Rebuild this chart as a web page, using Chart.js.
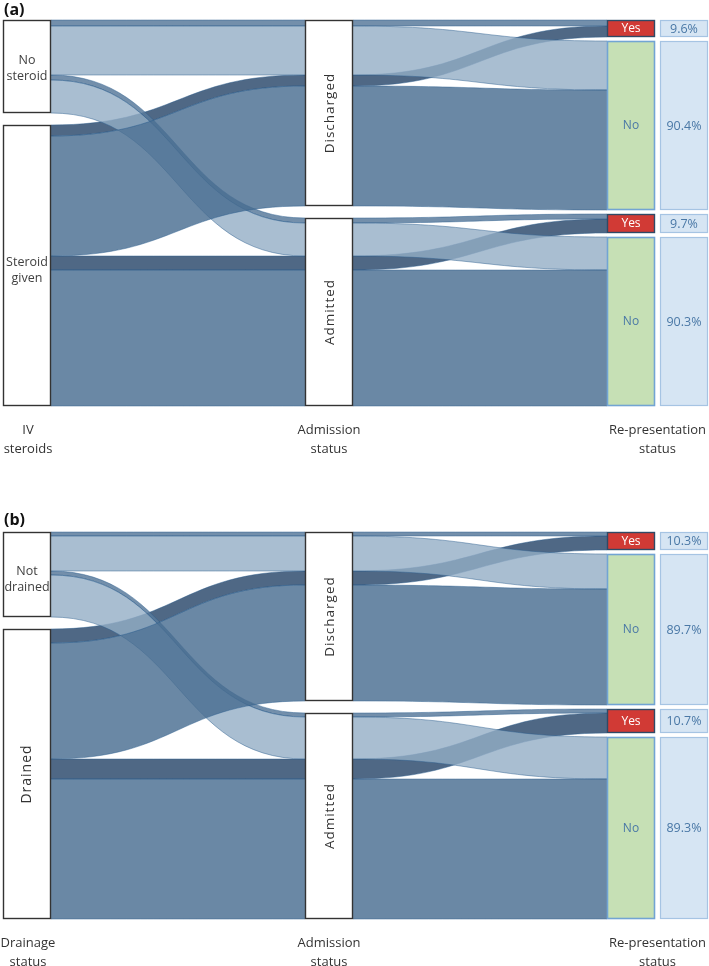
<!DOCTYPE html>
<html>
<head>
<meta charset="utf-8">
<script src="https://cdn.jsdelivr.net/npm/chart.js@4.4.1/dist/chart.umd.min.js"></script>
<style>
html,body{margin:0;padding:0;background:#fff;}
.panel{position:relative;width:709px;height:483px;overflow:hidden;}
canvas{display:block;}
</style>
</head>
<body>
<div class="panel"><canvas id="ca" width="709" height="483"></canvas></div>
<div class="panel"><canvas id="cb" width="709" height="483"></canvas></div>
<script>
// ---------------- DATA ----------------
const panelLetters = ['(a)', '(b)'];
const stageLabelsA = [['IV', 'steroids'], ['Admission', 'status'], ['Re-presentation', 'status']];
const stageLabelsB = [['Drainage', 'status'], ['Admission', 'status'], ['Re-presentation', 'status']];
const sourceLabelsA = [['No', 'steroid'], ['Steroid', 'given']];
const sourceLabelsB = [['Not', 'drained'], ['Drained']];
const middleLabels = ['Discharged', 'Admitted'];
const outcomeLabels = ['Yes', 'No'];
// path values per source node, order: [Discharged→Yes, Discharged→No, Admitted→Yes, Admitted→No]
const noSteroidA = [6, 49, 5, 33];
const steroidGivenA = [11, 120, 14, 136];
const notDrainedB = [4, 35, 4, 42];
const drainedB = [14, 116, 20, 140];
// re-presentation percentages (Discharged Yes, Discharged No, Admitted Yes, Admitted No)
const pctLabelsA = ['9.6%', '90.4%', '9.7%', '90.3%'];
const pctLabelsB = ['10.3%', '89.7%', '10.7%', '89.3%'];
const nodeGap = 12;

// ---------------- STYLE ----------------
const FONT = '"Open Sans", "Noto Sans", sans-serif';
const flowFill = {
  yes: ['rgba(90,123,156,0.85)', 'rgba(60,88,120,0.9)'],
  no: ['rgba(147,174,198,0.8)', 'rgba(71,109,144,0.81)']
};
const flowEdge = 'rgba(40,90,140,0.45)';

function sankeyPlugin(srcPaths, srcLabels, stageLabels, pctLabels, letter, st) {
  return {
    id: 'sankeyDraw',
    afterDraw(chart) {
      const ctx = chart.ctx;
      const X = v => chart.scales.x.getPixelForValue(v);
      const Y = v => chart.scales.y.getPixelForValue(v);
      const hw = 24;
      const nS = srcPaths.length;
      const total = srcPaths.flat().reduce((a, b) => a + b, 0);
      const maxY = chart.scales.y.max;
      // left column
      let c = 0;
      const leftNodes = [], leftSeg = srcPaths.map(() => []);
      srcPaths.forEach((arr, s) => {
        const s0 = c;
        arr.forEach((v, k) => { leftSeg[s][k] = [c, c + v]; c += v; });
        leftNodes.push([s0, c]);
        c += (maxY - total) / (nS - 1);
      });
      // middle column
      c = 0;
      const midNodes = [], midSeg = srcPaths.map(() => []);
      for (let m = 0; m < 2; m++) {
        const s0 = c;
        for (let s = 0; s < nS; s++) for (let o = 0; o < 2; o++) {
          const k = m * 2 + o, v = srcPaths[s][k];
          midSeg[s][k] = [c, c + v]; c += v;
        }
        midNodes.push([s0, c]);
        c += (maxY - total);
      }
      // right column
      c = 0;
      const rightNodes = [], rightSeg = srcPaths.map(() => []);
      const rg = (maxY - total) / 3;
      for (let k = 0; k < 4; k++) {
        const s0 = c;
        for (let s = 0; s < nS; s++) { const v = srcPaths[s][k]; rightSeg[s][k] = [c, c + v]; c += v; }
        rightNodes.push([s0, c]);
        c += rg;
      }
      const x0 = X(0), x1 = X(1), x2 = X(2);
      const xP = x2 + (x2 - x1) * 0.1755;

      function band(xa, a, xb, b, fill) {
        const ya0 = Y(a[0]), ya1 = Y(a[1]), yb0 = Y(b[0]), yb1 = Y(b[1]);
        const xm = (xa + xb) / 2;
        ctx.beginPath();
        ctx.moveTo(xa, ya0);
        ctx.bezierCurveTo(xm, ya0, xm, yb0, xb, yb0);
        ctx.lineTo(xb, yb1);
        ctx.bezierCurveTo(xm, yb1, xm, ya1, xa, ya1);
        ctx.closePath();
        ctx.fillStyle = fill;
        ctx.fill();
        ctx.lineWidth = 1;
        ctx.strokeStyle = flowEdge;
        ctx.beginPath();
        ctx.moveTo(xa, ya0);
        ctx.bezierCurveTo(xm, ya0, xm, yb0, xb, yb0);
        ctx.moveTo(xa, ya1);
        ctx.bezierCurveTo(xm, ya1, xm, yb1, xb, yb1);
        ctx.stroke();
      }
      ctx.save();
      // draw order: yes paths first (source 1 then 0), then no paths (source 0 then 1)
      const order = [[1, 0], [0, 0], [0, 1], [1, 1]];
      order.forEach(([s, o]) => {
        for (let m = 0; m < 2; m++) {
          const k = m * 2 + o;
          const fill = o === 0 ? flowFill.yes[s] : flowFill.no[s];
          band(x0 + hw, leftSeg[s][k], x1 - hw, midSeg[s][k], fill);
          band(x1 + hw, midSeg[s][k], x2 - hw, rightSeg[s][k], fill);
        }
      });
      // nodes
      function rect(xc, r, fill, stroke, lw) {
        const ya = Y(r[0]), yb = Y(r[1]);
        ctx.fillStyle = fill;
        ctx.fillRect(xc - hw, ya, hw * 2, yb - ya);
        ctx.lineWidth = lw;
        ctx.strokeStyle = stroke;
        ctx.strokeRect(xc - hw + 0.5, ya + 0.5, hw * 2 - 1, yb - ya - 1);
      }
      leftNodes.forEach(r => rect(x0, r, '#ffffff', '#333333', 1.4));
      midNodes.forEach(r => rect(x1, r, '#ffffff', '#333333', 1.4));
      rightNodes.forEach((r, k) => {
        if (k % 2 === 0) rect(x2, r, '#d13a35', '#2f4a66', 1.4);
        else rect(x2, r, '#c6e0b5', '#72a4d3', 1.6);
        rect(xP, r, '#d6e5f3', '#a6c4e3', 1.2);
      });
      // labels
      ctx.textAlign = 'center';
      ctx.textBaseline = 'middle';
      // source labels
      leftNodes.forEach((r, s) => {
        const lines = srcLabels[s];
        const yc = (Y(r[0]) + Y(r[1])) / 2;
        if (st.rotateSource[s]) {
          ctx.save();
          ctx.translate(x0, yc);
          ctx.rotate(-Math.PI / 2);
          ctx.font = '14px ' + FONT;
          ctx.letterSpacing = '1px';
          ctx.fillStyle = '#333';
          ctx.fillText(lines.join(' '), 0, 0);
          ctx.restore();
        } else {
          ctx.font = '12.5px ' + FONT;
          ctx.letterSpacing = '0px';
          ctx.fillStyle = '#404040';
          const lh = 16;
          lines.forEach((t, i) => ctx.fillText(t, x0, yc + st.srcShift[s] + (i - (lines.length - 1) / 2) * lh));
        }
      });
      // middle labels (rotated)
      midNodes.forEach((r, m) => {
        const yc = (Y(r[0]) + Y(r[1])) / 2;
        ctx.save();
        ctx.translate(x1 + 1, yc);
        ctx.rotate(-Math.PI / 2);
        ctx.font = '13.5px ' + FONT;
        ctx.letterSpacing = '1px';
        ctx.fillStyle = '#333';
        ctx.fillText(middleLabels[m], 0, 0);
        ctx.restore();
      });
      ctx.letterSpacing = '0px';
      // outcome & pct labels
      rightNodes.forEach((r, k) => {
        const yc = (Y(r[0]) + Y(r[1])) / 2 + 0.5;
        ctx.font = '12px ' + FONT;
        ctx.fillStyle = k % 2 === 0 ? '#ffffff' : '#4a78a6';
        ctx.fillText(outcomeLabels[k % 2], x2, yc);
        ctx.fillStyle = '#4a78a6';
        ctx.font = '12.5px ' + FONT;
        ctx.fillText(pctLabels[k], xP, yc);
      });
      // stage labels
      const yBase = Y(maxY);
      ctx.font = '13px ' + FONT;
      ctx.fillStyle = '#333';
      const sx = [x0 + 1, x1, (x2 + xP) / 2];
      stageLabels.forEach((lines, i) => {
        lines.forEach((t, j) => ctx.fillText(t, sx[i], yBase + 24 + j * 19));
      });
      // panel letter
      ctx.textAlign = 'left';
      ctx.font = 'bold 16px ' + FONT;
      ctx.fillStyle = '#111';
      ctx.fillText(letter, 4, Y(0) - st.letterOffset);
      ctx.restore();
    }
  };
}

function makePanel(id, srcPaths, srcLabels, stageLabels, pctLabels, letter, st) {
  const total = srcPaths.flat().reduce((a, b) => a + b, 0);
  return new Chart(document.getElementById(id), {
    type: 'scatter',
    data: { datasets: [] },
    options: {
      responsive: false,
      animation: false,
      events: [],
      devicePixelRatio: 1,
      layout: { padding: st.padding },
      plugins: { legend: { display: false }, tooltip: { enabled: false }, title: { display: false } },
      scales: {
        x: { type: 'linear', min: 0, max: 2, display: false },
        y: { type: 'linear', min: 0, max: total + nodeGap, reverse: true, display: false }
      }
    },
    plugins: [sankeyPlugin(srcPaths, srcLabels, stageLabels, pctLabels, letter, st)]
  });
}

makePanel('ca', [noSteroidA, steroidGivenA], sourceLabelsA, stageLabelsA, pctLabelsA, panelLetters[0], {
  padding: { left: 27, right: 78, top: 20, bottom: 77 },
  rotateSource: [false, false],
  srcShift: [1.5, 4.5],
  letterOffset: 10
});
makePanel('cb', [notDrainedB, drainedB], sourceLabelsB, stageLabelsB, pctLabelsB, panelLetters[1], {
  padding: { left: 27, right: 78, top: 49, bottom: 47 },
  rotateSource: [false, true],
  srcShift: [5, 0],
  letterOffset: 12
});
</script>
</body>
</html>
